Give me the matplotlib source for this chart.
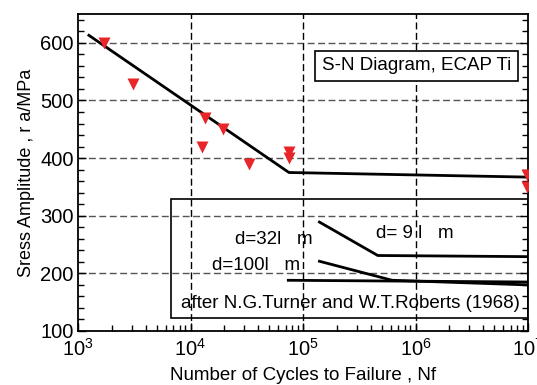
import numpy as np
import matplotlib
matplotlib.use('Agg')
import matplotlib.pyplot as plt
from matplotlib.patches import Rectangle
from matplotlib.ticker import MultipleLocator, LogLocator, NullFormatter

plt.rcParams['font.family'] = ['Liberation Sans', 'DejaVu Sans']
plt.rcParams['mathtext.fontset'] = 'custom'
plt.rcParams['mathtext.rm'] = 'Liberation Sans'

# measured points, ECAP Ti
cycles = [1700, 3100, 13500, 12600, 19500, 33000, 75000, 75000, 9.7e6, 9.7e6]
stress = [600, 528, 470, 420, 450, 390, 410, 400, 370, 350]

# fitted S-N curve
fit_n = [1250, 75000, 1e7]
fit_s = [613, 375, 367]

# curves after Turner & Roberts
d9_n = [140000, 462000, 1e7]
d9_s = [289, 231, 229]
d32_n = [140000, 620000, 1e7]
d32_s = [221, 188, 180]
d100_n = [74000, 1e7]
d100_s = [188, 185]

fig = plt.figure(figsize=(5.37, 3.85), dpi=100)
ax = fig.add_axes([78/537, 1 - 331/385, 450/537, 317/385])

ax.set_xscale('log')
ax.set_xlim(1e3, 1e7)
ax.set_ylim(100, 650)

ax.plot(fit_n, fit_s, color='black', lw=2, zorder=3)
ax.plot(d9_n, d9_s, color='black', lw=2, zorder=3)
ax.plot(d32_n, d32_s, color='black', lw=2, zorder=3)
ax.plot(d100_n, d100_s, color='black', lw=2, zorder=3)
ax.plot(cycles, stress, 'v', color='#e8262a', ms=8, mec='none', zorder=4)

# grid
for y in [200, 300, 400, 500, 600]:
    ax.axhline(y, color='#555555', ls=(0, (5, 2.5)), lw=1, zorder=1)
for x in [1e4, 1e5, 1e6]:
    ax.axvline(x, color='black', ls=(0, (5, 2.5)), lw=1, zorder=1)

# inset box
ax.add_patch(Rectangle((6700, 122.5), 1e7 - 6700, 329 - 122.5, fill=False,
                       ec='black', lw=1.2, zorder=2))
fs = 13.5
ax.text(376/537, 1 - 233/385, 'd= 9 l   m', transform=fig.transFigure,
        fontsize=fs, va='center')
ax.text(235/537, 1 - 240/385, 'd=32l   m', transform=fig.transFigure,
        fontsize=fs, va='center')
ax.text(212/537, 1 - 265/385, 'd=100l   m', transform=fig.transFigure,
        fontsize=fs, va='center')
ax.text(181/537, 1 - 303/385, 'after N.G.Turner and W.T.Roberts (1968)',
        transform=fig.transFigure, fontsize=fs, va='center')

ax.text(322/537, 1 - 66/385, 'S-N Diagram, ECAP Ti', transform=fig.transFigure,
        fontsize=fs, va='center',
        bbox=dict(boxstyle='square,pad=0.35', fc='white', ec='black', lw=1.2))

# ticks
ax.yaxis.set_major_locator(MultipleLocator(100))
ax.yaxis.set_minor_locator(MultipleLocator(20))
ax.xaxis.set_major_locator(LogLocator(base=10, numticks=10))
ax.xaxis.set_minor_locator(LogLocator(base=10, subs=np.arange(2, 10), numticks=20))
ax.xaxis.set_minor_formatter(NullFormatter())
ax.tick_params(which='both', direction='in', top=False, right=True,
               labelsize=14.5, width=1)
ax.tick_params(axis='x', pad=5)
ax.tick_params(axis='y', pad=3)
ax.tick_params(which='major', length=6)
ax.tick_params(which='minor', length=4)
for s in ax.spines.values():
    s.set_linewidth(1.3)

ax.set_xlabel('Number of Cycles to Failure , Nf', fontsize=13.5, labelpad=5)
ax.set_ylabel('Sress Amplitude , r a/MPa', fontsize=13, labelpad=4)

fig.savefig('out.png', dpi=100)
